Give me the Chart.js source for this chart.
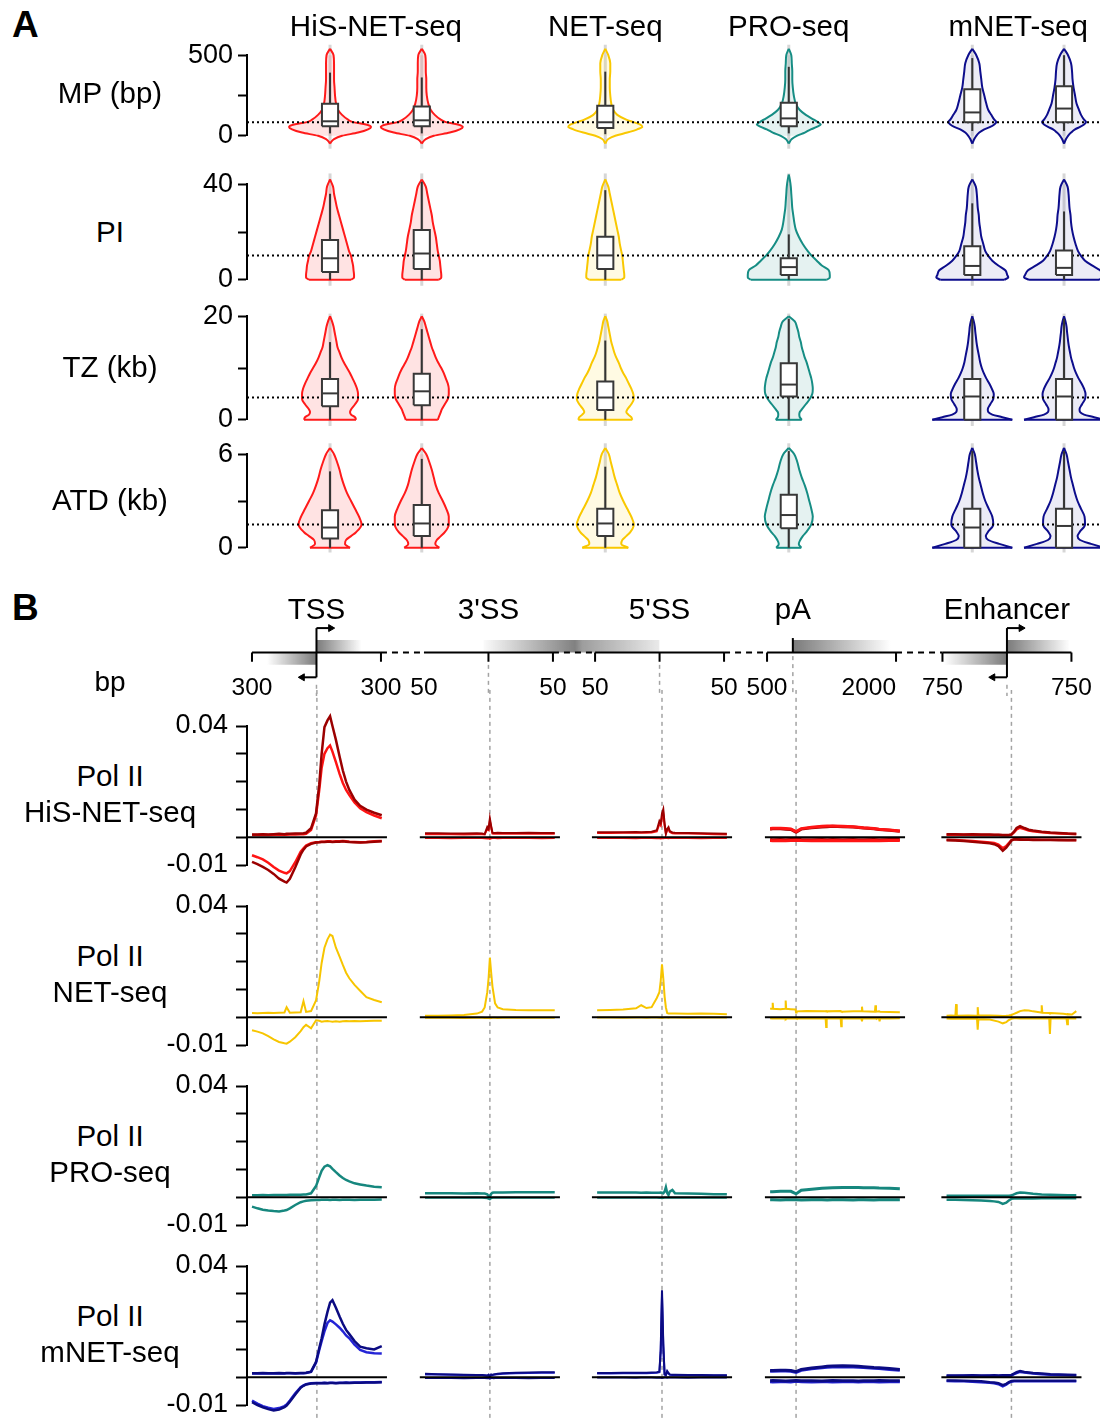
<!DOCTYPE html>
<html>
<head>
<meta charset="utf-8">
<script src="https://cdn.jsdelivr.net/npm/chart.js@4.4.0/dist/chart.umd.min.js"></script>
<style>
body { margin: 0; background: #fff; }
#page { position: relative; width: 1102px; height: 1420px; overflow: hidden; font-family: "Liberation Sans", Arial, sans-serif; }
#page canvas { position: absolute; }
.lbl { position: absolute; white-space: nowrap; color: #000; line-height: 1; }
</style>
</head>
<body>
<div id="page"></div>
<script>
// ---------- panel A : violins ----------
const assays = ['HiS-NET-seq', 'NET-seq', 'PRO-seq', 'mNET-seq'];
const assayCenter = [0.5, 3, 5, 7.5];
const colX = [0, 1, 3, 5, 7, 8];
const metricNames = ['MP (bp)', 'PI', 'TZ (kb)', 'ATD (kb)'];

// MP (bp)
const mpLevels = [-48, -20, 0, 20, 40, 55, 70, 85, 100, 130, 160, 200, 250, 300, 350, 400, 450, 500, 540];
const mpDensity = [
  [0, 4, 12, 28, 38, 41, 36, 23, 18, 12, 8, 6, 5, 4.5, 4, 4, 4, 3.5, 0],
  [0, 4, 12, 28, 38, 41, 36, 24, 19, 13, 9, 6.5, 5, 4.5, 4.5, 4, 4, 3.5, 0],
  [0, 3, 10, 22, 32, 37, 35, 28, 21, 12, 8, 6, 5, 4.5, 4.5, 5, 5, 3, 0],
  [0, 3, 8, 16, 22, 28, 32, 29, 25, 17, 11, 7, 5, 4, 3.5, 3.5, 3, 2.5, 0],
  [0, 2, 4, 7, 12, 18, 22, 24, 22, 19, 16, 14, 12, 10, 9, 8, 7, 4, 0],
  [0, 2, 4, 7, 11, 16, 20, 22, 20, 17, 15, 12.5, 11, 9.5, 8.5, 8, 7, 4, 0]
];
// [whisker low, q1, median, q3, whisker high]
const mpBoxes = [[15, 60, 90, 199, 392], [15, 60, 96, 181, 362], [10, 48, 84, 187, 398],
                 [15, 60, 108, 205, 428], [30, 84, 145, 289, 482], [30, 84, 169, 307, 500]];
const mpRef = 84;
const mpTicks = [0, 250, 500];
const mpTickText = ['0', '', '500'];
const mpGray = [-80, 565];

// PI
const piLevels = [0, 1, 2, 4, 6, 8, 10, 12, 15, 18, 21, 24, 27, 30, 33, 36, 39, 42, 44];
const piDensity = [
  [21, 24, 24, 23.5, 23, 22, 21, 19, 17, 15, 13, 11, 9, 7, 5.5, 4, 3, 0, 0],
  [17, 19.5, 19.5, 19, 18.5, 18, 17, 16, 15, 14, 12.5, 11, 10, 8.5, 7, 5.5, 4, 0, 0],
  [16, 19, 19, 18.5, 18, 17.5, 17, 16, 14.5, 13.5, 12, 10.5, 9, 7.5, 6, 4.5, 3, 0, 0],
  [38, 41, 41, 40, 33, 28, 23, 19, 14, 10, 7, 5.5, 4.5, 3.5, 3, 2.5, 2, 1, 0],
  [32, 36, 35, 33, 26, 20, 16, 13, 11, 9, 8, 7, 6.5, 5.5, 5, 4.5, 3.5, 0, 0],
  [35, 40, 39, 36, 28, 21, 17, 14, 11.5, 9.5, 8, 7, 6.5, 5.5, 5, 4.5, 3.5, 0, 0]
];
const piBoxes = [[0, 3.3, 9, 16.7, 36], [0, 4.5, 11, 20.8, 41], [0, 4.5, 10.2, 18, 37.5],
                 [0, 2, 5.3, 9, 19], [0, 2, 5.8, 14, 32], [0, 2, 5, 12.3, 28.6]];
const piRef = 10.2;
const piTicks = [0, 20, 40];
const piTickText = ['0', '', '40'];
const piGray = [-2.5, 44.5];

// TZ (kb)
const tzLevels = [0, 0.5, 1, 1.5, 2, 3, 4, 5, 6, 7, 8, 9, 10, 11, 12, 13, 14, 15, 16, 17, 18, 19, 20];
const tzDensity = [
  [26, 25, 21, 20, 21, 25, 28, 28, 27, 25, 22.5, 20, 17, 14, 11.5, 9.5, 7.5, 6.5, 5.5, 4.5, 3.5, 2, 0],
  [16, 17, 18, 19, 20, 23, 26, 27, 27, 26, 24, 22, 19.5, 16.5, 14, 12, 10, 8.5, 7, 5.5, 4, 2.5, 0],
  [27, 26, 23, 21, 22, 26, 28.5, 28, 26, 23.5, 21, 18, 15.5, 13.5, 11, 9, 7.5, 6, 5, 4, 3, 2, 0],
  [13, 11, 10.5, 11, 13, 17, 21, 23.5, 24, 23.5, 22.5, 21, 19.5, 18, 16, 14.5, 13, 12, 10.5, 9.5, 8, 6, 0],
  [40, 30, 20, 16, 15.5, 18, 21, 21.5, 19.5, 17, 14, 11.5, 9.5, 8, 7, 6, 5, 4.2, 3.6, 3, 2.5, 1.5, 0],
  [40, 30, 20, 16, 15.5, 18, 21, 21.5, 20, 17.5, 14.5, 12, 10, 8.5, 7, 6, 5, 4.2, 3.6, 3, 2.5, 1.5, 0]
];
const tzBoxes = [[0, 2.6, 5.1, 7.9, 15], [0, 2.8, 5.5, 8.9, 17.5], [0, 1.9, 4.3, 7.4, 15.3],
                 [0, 4.5, 6.8, 10.9, 19.5], [0, 0, 4.5, 7.9, 19.5], [0, 0, 4.5, 7.9, 19.5]];
const tzRef = 4.3;
const tzTicks = [0, 10, 20];
const tzTickText = ['0', '', '20'];
const tzGray = [-1.2, 20.5];

// ATD (kb)
const atdLevels = [0, 0.25, 0.5, 0.75, 1, 1.5, 2, 2.5, 3, 3.5, 4, 4.5, 5, 5.5, 6, 6.4];
const atdDensity = [
  [20, 15, 16, 21, 26, 31.5, 29, 25, 21, 17, 14, 11.5, 9.5, 7, 4, 0],
  [17.5, 13.5, 15, 19, 23, 27, 27, 24.5, 21, 17, 14, 12, 10, 7.5, 4.5, 0],
  [23, 16, 17, 21, 25, 28.5, 26, 22, 18, 14.5, 12, 9.5, 7.5, 5.5, 3.5, 0],
  [12.5, 10, 11.5, 14, 17.5, 22.5, 24, 22.5, 20.5, 18.5, 16, 13, 10.5, 8.5, 5.5, 0],
  [40, 27, 16, 13.5, 15.5, 21, 20, 16.5, 13, 10.5, 8.5, 6.5, 5, 3.8, 2.5, 0],
  [40, 27, 16, 13.5, 15.5, 21, 20.5, 17, 13.5, 11, 9, 7, 5.5, 4, 2.5, 0]
];
const atdBoxes = [[0, 0.6, 1.3, 2.4, 4.9], [0, 0.75, 1.56, 2.75, 5.7], [0, 0.75, 1.56, 2.5, 5.2],
                  [0, 1.25, 2.1, 3.4, 6.2], [0, 0, 1.3, 2.5, 6.2], [0, 0, 1.4, 2.5, 6.2]];
const atdRef = 1.5;
const atdTicks = [0, 3, 6];
const atdTickText = ['0', '', '6'];
const atdGray = [-0.3, 6.7];

// ---------- panel B : metagene profiles ----------
const siteNames = ['TSS', "3'SS", "5'SS", 'pA', 'Enhancer'];
const segRange = [[-300, 300], [-50, 50], [-50, 50], [-500, 2000], [-750, 750]];

const tssBp = [-300,-275,-250,-225,-200,-175,-150,-140,-125,-100,-75,-62,-50,-27,-4,11,22,35,49,61,72,88,105,120,135,150,174,200,229,265,300];
const ss3Bp = [-50,-40,-30,-20,-10,-6,-4,-2,-1,0,1,2,3,4,6,10,20,30,40,50];
const ss5Bp = [-50,-40,-30,-20,-16,-12,-8,-4,-2,-1,0,1,2,3,4,5,6,8,10,20,30,40,50];
const paBp = [-500,-450,-300,-200,-100,0,100,300,500,600,700,900,1100,1200,1300,1500,1600,1800,2000];
const enhBp = [-750,-650,-550,-450,-350,-250,-200,-150,-100,-60,-30,0,30,60,100,150,200,250,350,450,550,650,750];
// finer positions for the spiky NET-seq tracks
const netPaBp = [-500,-460,-450,-440,-300,-210,-200,-190,-100,-10,0,10,200,570,580,590,860,870,880,1100,1260,1270,1280,1520,1530,1540,1600,1610,1620,1800,2000];
const netEnhBp = [-750,-700,-648,-640,-632,-500,-398,-390,-382,-250,-150,-100,-60,-30,0,30,60,100,150,200,250,342,350,358,437,445,453,600,637,645,653,700,750];

// HiS-NET-seq (A = dark replicate, B = bright replicate)
const hisTssPosA = [.0010,.0010,.0011,.0010,.0011,.0012,.0011,.0012,.0012,.0013,.0013,.0014,.0016,.0032,.0086,.0190,.0300,.0396,.0420,.0435,.0400,.0350,.0290,.0240,.0200,.0170,.0135,.0113,.0099,.0088,.0079];
const hisTssPosB = [.0008,.0008,.0009,.0008,.0009,.0009,.0010,.0009,.0010,.0010,.0011,.0011,.0012,.0026,.0078,.0170,.0250,.0300,.0320,.0330,.0308,.0270,.0228,.0195,.0170,.0152,.0125,.0104,.0090,.0078,.0068];
const hisTssNegA = [-.0089,-.0097,-.0107,-.0118,-.0132,-.0149,-.0160,-.0163,-.0150,-.0108,-.0062,-.0045,-.0033,-.0024,-.0019,-.0018,-.0017,-.0017,-.0016,-.0016,-.0017,-.0016,-.0016,-.0015,-.0016,-.0017,-.0018,-.0019,-.0018,-.0016,-.0015];
const hisTssNegB = [-.0065,-.0072,-.0080,-.0092,-.0107,-.0120,-.0128,-.0130,-.0122,-.0090,-.0052,-.0040,-.0030,-.0022,-.0018,-.0017,-.0016,-.0016,-.0015,-.0015,-.0016,-.0015,-.0015,-.0014,-.0015,-.0016,-.0017,-.0018,-.0017,-.0015,-.0014];
const hisSs3PosA = [.0014,.0014,.0013,.0013,.0014,.0013,.0011,.0037,.0030,.0067,.0040,.0016,.0015,.0015,.0016,.0015,.0015,.0016,.0015,.0015];
const hisSs3PosB = [.0011,.0011,.0011,.0010,.0011,.0011,.0010,.0030,.0026,.0058,.0035,.0013,.0012,.0012,.0013,.0012,.0012,.0013,.0012,.0012];
const hisSs3Neg = [-.0003,-.0003,-.0004,-.0003,-.0003,-.0003,-.0004,-.0005,-.0004,-.0006,-.0004,-.0003,-.0003,-.0003,-.0004,-.0003,-.0003,-.0003,-.0004,-.0003];
const hisSs5PosA = [.0018,.0018,.0018,.0019,.0018,.0019,.0020,.0025,.0058,.0050,.0085,.0100,.0050,.0014,.0030,.0036,.0022,.0017,.0016,.0015,.0014,.0013,.0012];
const hisSs5PosB = [.0015,.0015,.0016,.0016,.0016,.0016,.0017,.0021,.0048,.0042,.0070,.0085,.0042,.0012,.0025,.0030,.0019,.0014,.0013,.0013,.0012,.0011,.0010];
const hisSs5Neg = [-.0003,-.0003,-.0003,-.0004,-.0003,-.0003,-.0003,-.0004,-.0004,-.0005,-.0004,-.0004,-.0003,-.0003,-.0003,-.0004,-.0003,-.0003,-.0003,-.0003,-.0004,-.0003,-.0003];
const hisPaPosA = [.0029,.0030,.0030,.0029,.0028,.0018,.0029,.0034,.0037,.0038,.0039,.0038,.0037,.0035,.0033,.0030,.0028,.0025,.0021];
const hisPaPosB = [.0031,.0032,.0032,.0031,.0030,.0020,.0031,.0036,.0039,.0040,.0040,.0039,.0038,.0036,.0034,.0031,.0029,.0026,.0022];
const hisPaNegA = [-.0008,-.0009,-.0008,-.0009,-.0008,-.0007,-.0008,-.0009,-.0008,-.0009,-.0008,-.0009,-.0008,-.0009,-.0009,-.0008,-.0009,-.0008,-.0008];
const hisPaNegB = [-.0012,-.0013,-.0012,-.0013,-.0012,-.0011,-.0012,-.0013,-.0012,-.0013,-.0012,-.0013,-.0012,-.0013,-.0013,-.0012,-.0013,-.0012,-.0012];
const hisEnhPosA = [.0011,.0011,.0010,.0011,.0010,.0010,.0009,.0009,.0008,.0008,.0008,.0010,.0020,.0033,.0040,.0033,.0027,.0024,.0020,.0017,.0015,.0013,.0012];
const hisEnhPosB = [.0009,.0009,.0009,.0009,.0008,.0008,.0008,.0008,.0007,.0007,.0007,.0009,.0017,.0028,.0034,.0029,.0024,.0021,.0018,.0015,.0013,.0012,.0011];
const hisEnhNegA = [-.0011,-.0012,-.0014,-.0016,-.0019,-.0022,-.0025,-.0032,-.0049,-.0038,-.0025,-.0012,-.0008,-.0008,-.0009,-.0009,-.0009,-.0010,-.0010,-.0010,-.0011,-.0011,-.0011];
const hisEnhNegB = [-.0009,-.0010,-.0012,-.0014,-.0016,-.0019,-.0021,-.0027,-.0040,-.0032,-.0021,-.0010,-.0007,-.0007,-.0007,-.0008,-.0008,-.0008,-.0009,-.0009,-.0009,-.0010,-.0010];

// NET-seq
const netTssPos = [.0015,.0014,.0015,.0016,.0015,.0016,.0017,.0036,.0016,.0017,.0018,.0058,.0019,.0022,.0060,.0130,.0195,.0250,.0280,.0297,.0292,.0250,.0218,.0188,.0160,.0140,.0116,.0095,.0072,.0062,.0054];
const netTssNeg = [-.0047,-.0052,-.0058,-.0068,-.0080,-.0089,-.0094,-.0095,-.0088,-.0072,-.0050,-.0036,-.0027,-.0040,-.0011,-.0013,-.0016,-.0015,-.0014,-.0015,-.0016,-.0015,-.0016,-.0015,-.0014,-.0015,-.0014,-.0015,-.0014,-.0013,-.0013];
const netSs3Pos = [.0005,.0005,.0006,.0008,.0013,.0020,.0035,.0090,.0140,.0214,.0160,.0110,.0080,.0050,.0035,.0029,.0026,.0025,.0025,.0025];
const netSs3Neg = [-.0002,-.0002,-.0002,-.0003,-.0002,-.0002,-.0003,-.0003,-.0002,-.0004,-.0003,-.0002,-.0002,-.0002,-.0003,-.0002,-.0002,-.0002,-.0002,-.0002];
const netSs5Pos = [.0025,.0026,.0028,.0032,.0043,.0033,.0036,.0069,.0090,.0130,.0190,.0140,.0075,.0035,.0015,.0013,.0013,.0013,.0013,.0012,.0013,.0012,.0011];
const netSs5Neg = [-.0001,-.0001,-.0002,-.0001,-.0001,-.0002,-.0001,-.0001,-.0002,-.0002,-.0003,-.0002,-.0001,-.0001,-.0001,-.0002,-.0001,-.0001,-.0001,-.0002,-.0001,-.0001,-.0001];
const netPaPos = [.0030,.0031,.0052,.0030,.0029,.0030,.0060,.0030,.0029,.0028,.0017,.0021,.0022,.0021,.0022,.0021,.0022,.0021,.0020,.0021,.0021,.0038,.0021,.0020,.0043,.0020,.0021,.0021,.0020,.0019,.0018];
const netPaNeg = [-.0004,-.0005,-.0004,-.0005,-.0004,-.0005,-.0006,-.0004,-.0005,-.0004,-.0004,-.0005,-.0004,-.0005,-.0035,-.0005,-.0004,-.0033,-.0005,-.0004,-.0005,-.0015,-.0004,-.0005,-.0004,-.0005,-.0005,-.0015,-.0004,-.0005,-.0004];
const netEnhPos = [.0005,.0006,.0005,.0047,.0005,.0006,.0005,.0036,.0006,.0006,.0005,.0004,.0005,.0006,.0008,.0012,.0016,.0022,.0025,.0024,.0021,.0017,.0043,.0016,.0015,.0014,.0015,.0012,.0011,.0010,.0011,.0010,.0022];
const netEnhNeg = [-.0005,-.0006,-.0005,-.0006,-.0005,-.0006,-.0006,-.0045,-.0007,-.0008,-.0016,-.0022,-.0018,-.0010,-.0006,-.0004,-.0004,-.0005,-.0004,-.0005,-.0004,-.0005,-.0004,-.0005,-.0005,-.0060,-.0005,-.0005,-.0005,-.0025,-.0005,-.0005,-.0005];

// PRO-seq
const proTssPos = [.0007,.0007,.0008,.0007,.0008,.0008,.0008,.0008,.0009,.0009,.0009,.0010,.0010,.0014,.0040,.0072,.0095,.0110,.0115,.0111,.0102,.0090,.0078,.0069,.0062,.0057,.0050,.0046,.0042,.0038,.0036];
const proTssNeg = [-.0034,-.0040,-.0045,-.0048,-.0050,-.0051,-.0048,-.0046,-.0040,-.0028,-.0018,-.0015,-.0013,-.0011,-.0010,-.0010,-.0009,-.0009,-.0009,-.0010,-.0009,-.0009,-.0010,-.0009,-.0009,-.0009,-.0010,-.0009,-.0009,-.0009,-.0008];
const proSs3Pos = [.0014,.0014,.0014,.0013,.0014,.0013,.0013,.0010,.0004,.0002,.0012,.0016,.0017,.0017,.0017,.0017,.0018,.0018,.0018,.0018];
const proSs3Neg = [-.0002,-.0002,-.0002,-.0002,-.0002,-.0002,-.0003,-.0004,-.0006,-.0008,-.0004,-.0002,-.0002,-.0002,-.0002,-.0002,-.0002,-.0002,-.0002,-.0002];
const proSs5Pos = [.0017,.0017,.0017,.0017,.0016,.0017,.0016,.0016,.0016,.0017,.0016,.0014,.0020,.0036,.0015,.0008,.0020,.0026,.0014,.0013,.0012,.0011,.0011];
const proSs5Neg = [-.0002,-.0002,-.0002,-.0002,-.0002,-.0002,-.0002,-.0002,-.0003,-.0003,-.0004,-.0003,-.0002,-.0002,-.0002,-.0002,-.0002,-.0002,-.0002,-.0002,-.0002,-.0002,-.0002];
const proPaPos = [.0020,.0020,.0021,.0021,.0021,.0012,.0025,.0029,.0032,.0033,.0034,.0035,.0035,.0035,.0034,.0034,.0033,.0032,.0030];
const proPaNeg = [-.0009,-.0009,-.0010,-.0009,-.0009,-.0009,-.0010,-.0009,-.0009,-.0010,-.0009,-.0009,-.0010,-.0009,-.0009,-.0010,-.0009,-.0009,-.0009];
const proEnhPos = [.0005,.0005,.0005,.0005,.0005,.0005,.0005,.0005,.0005,.0005,.0005,.0006,.0010,.0014,.0017,.0016,.0014,.0012,.0010,.0009,.0008,.0007,.0007];
const proEnhNeg = [-.0009,-.0009,-.0010,-.0011,-.0012,-.0014,-.0015,-.0017,-.0024,-.0020,-.0012,-.0006,-.0005,-.0005,-.0005,-.0005,-.0005,-.0005,-.0004,-.0004,-.0004,-.0004,-.0004];

// mNET-seq (A = dark replicate, B = bright replicate)
const mnTssPosA = [.0014,.0014,.0015,.0014,.0014,.0015,.0014,.0015,.0015,.0014,.0015,.0015,.0016,.0020,.0055,.0105,.0140,.0190,.0235,.0268,.0277,.0250,.0218,.0192,.0170,.0155,.0130,.0110,.0104,.0100,.0112];
const mnTssPosB = [.0013,.0013,.0014,.0013,.0013,.0014,.0013,.0014,.0014,.0013,.0014,.0014,.0015,.0019,.0052,.0098,.0130,.0165,.0195,.0205,.0200,.0190,.0178,.0165,.0150,.0140,.0117,.0098,.0090,.0086,.0085];
const mnTssNegA = [-.0090,-.0100,-.0108,-.0115,-.0120,-.0116,-.0108,-.0102,-.0088,-.0062,-.0038,-.0031,-.0026,-.0023,-.0022,-.0022,-.0022,-.0021,-.0022,-.0021,-.0021,-.0022,-.0021,-.0021,-.0020,-.0021,-.0020,-.0020,-.0019,-.0019,-.0018];
const mnTssNegB = [-.0084,-.0095,-.0104,-.0110,-.0114,-.0111,-.0104,-.0098,-.0084,-.0058,-.0036,-.0029,-.0025,-.0022,-.0021,-.0021,-.0021,-.0020,-.0021,-.0020,-.0020,-.0021,-.0020,-.0020,-.0019,-.0020,-.0019,-.0019,-.0018,-.0018,-.0017];
const mnSs3PosA = [.0012,.0011,.0010,.0009,.0008,.0008,.0007,.0006,.0009,.0002,.0010,.0008,.0010,.0011,.0012,.0014,.0016,.0017,.0018,.0018];
const mnSs3PosB = [.0010,.0010,.0009,.0008,.0007,.0007,.0006,.0005,.0007,.0001,.0008,.0007,.0009,.0010,.0011,.0012,.0014,.0015,.0016,.0016];
const mnSs3Neg = [-.0003,-.0003,-.0003,-.0004,-.0003,-.0003,-.0003,-.0004,-.0003,-.0005,-.0003,-.0003,-.0004,-.0003,-.0003,-.0003,-.0003,-.0004,-.0003,-.0003];
const mnSs5PosA = [.0015,.0015,.0016,.0016,.0016,.0016,.0017,.0018,.0020,.0100,.0313,.0120,.0010,.0008,.0022,.0015,.0010,.0009,.0009,.0008,.0008,.0007,.0007];
const mnSs5PosB = [.0013,.0013,.0014,.0014,.0014,.0014,.0015,.0016,.0018,.0090,.0290,.0110,.0009,.0007,.0020,.0013,.0009,.0008,.0008,.0007,.0007,.0006,.0006];
const mnSs5Neg = [-.0001,-.0001,-.0001,-.0002,-.0001,-.0001,-.0001,-.0002,-.0001,-.0002,-.0003,-.0002,-.0001,-.0001,-.0002,-.0001,-.0001,-.0001,-.0001,-.0002,-.0001,-.0001,-.0001];
const mnPaPosA = [.0024,.0024,.0025,.0025,.0024,.0020,.0028,.0033,.0037,.0039,.0040,.0041,.0040,.0039,.0038,.0035,.0034,.0031,.0028];
const mnPaPosB = [.0021,.0021,.0022,.0022,.0021,.0017,.0025,.0030,.0034,.0036,.0037,.0038,.0037,.0036,.0035,.0032,.0031,.0028,.0025];
const mnPaNegA = [-.0013,-.0012,-.0013,-.0014,-.0013,-.0012,-.0013,-.0013,-.0014,-.0013,-.0012,-.0013,-.0013,-.0014,-.0013,-.0013,-.0012,-.0013,-.0013];
const mnPaNegB = [-.0016,-.0017,-.0016,-.0016,-.0017,-.0015,-.0016,-.0017,-.0016,-.0016,-.0017,-.0016,-.0016,-.0017,-.0016,-.0016,-.0017,-.0016,-.0016];
const mnEnhPosA = [.0006,.0006,.0006,.0007,.0006,.0006,.0007,.0006,.0007,.0007,.0007,.0008,.0013,.0018,.0022,.0019,.0017,.0015,.0013,.0011,.0010,.0009,.0008];
const mnEnhPosB = [.0004,.0004,.0005,.0005,.0004,.0005,.0005,.0004,.0005,.0005,.0005,.0006,.0011,.0015,.0019,.0017,.0015,.0013,.0011,.0009,.0008,.0007,.0006];
const mnEnhNegA = [-.0012,-.0012,-.0013,-.0014,-.0015,-.0018,-.0019,-.0022,-.0029,-.0024,-.0018,-.0014,-.0013,-.0013,-.0013,-.0013,-.0013,-.0013,-.0013,-.0013,-.0013,-.0013,-.0013];
const mnEnhNegB = [-.0014,-.0015,-.0015,-.0016,-.0018,-.0020,-.0022,-.0025,-.0033,-.0027,-.0020,-.0016,-.0015,-.0015,-.0015,-.0015,-.0015,-.0015,-.0015,-.0015,-.0015,-.0015,-.0015];

const bTicks = [-0.01, 0, 0.01, 0.02, 0.03, 0.04];
const bTickText = ['-0.01', '', '', '', '', '0.04'];

// ---------- styling ----------
const violinLine = ['#ff1a1a', '#ff1a1a', '#f9c800', '#168d84', '#0d0d8c', '#0d0d8c'];
const violinFill = ['rgba(255,40,40,0.13)', 'rgba(255,40,40,0.13)', 'rgba(255,210,0,0.11)',
                    'rgba(22,141,132,0.11)', 'rgba(13,13,140,0.08)', 'rgba(13,13,140,0.08)'];
const violinScale = 0.0109;   // x units per density unit
const boxHalf = 0.088;
const hisDark = '#9b0000', hisRed = '#ff1414', netGold = '#f7c500', proTeal = '#16877e',
      mnDark = '#0b0b82', mnBlue = '#2424d6';

Chart.defaults.font.family = '"Liberation Sans", Arial, sans-serif';
Chart.defaults.color = '#000';
Chart.defaults.animation = false;
Chart.defaults.events = [];
Chart.defaults.plugins.legend.display = false;
Chart.defaults.plugins.tooltip.enabled = false;
Chart.defaults.elements.point.radius = 0;
Chart.defaults.elements.point.hoverRadius = 0;

const page = document.getElementById('page');

function addCanvas(left, top, w, h) {
  const c = document.createElement('canvas');
  c.width = w; c.height = h;
  c.style.left = left + 'px'; c.style.top = top + 'px';
  c.style.width = w + 'px'; c.style.height = h + 'px';
  page.appendChild(c);
  return c;
}

function addText(str, x, yc, size, align, bold) {
  const d = document.createElement('div');
  d.className = 'lbl';
  d.textContent = str;
  d.style.fontSize = size + 'px';
  d.style.top = (yc - 0.49 * size) + 'px';
  d.style.left = x + 'px';
  if (align === 'center') d.style.transform = 'translateX(-50%)';
  if (align === 'right') d.style.transform = 'translateX(-100%)';
  if (bold) d.style.fontWeight = 'bold';
  page.appendChild(d);
}

function line(pts, color, width, order, dash) {
  return { data: pts, borderColor: color, borderWidth: width, order: order,
           borderDash: dash || [], fill: false, clip: false, pointRadius: 0, tension: 0 };
}

function yAxis(ticks, tickText, size, tickLen, pad) {
  return {
    type: 'linear', min: ticks[0], max: ticks[ticks.length - 1],
    afterBuildTicks: ax => { ax.ticks = ticks.map(v => ({ value: v })); },
    afterFit: ax => { ax.width = 90; },
    ticks: { callback: (v, i) => tickText[i], font: { size: size }, color: '#000', padding: pad, autoSkip: false },
    grid: { drawOnChartArea: false, tickLength: tickLen, tickWidth: 2, tickColor: '#000' },
    border: { display: true, color: '#000', width: 2 }
  };
}

const aMin = -0.905, aMax = 8.392;

function violinRow(levels, density, boxes, ref, ticks, tickText, gray, topPx, bottomPx) {
  const cv = addCanvas(157, topPx - 20, 943, bottomPx - topPx + 40);
  const ds = [];
  colX.forEach((cx, c) => {
    ds.push(line([{ x: cx, y: gray[0] }, { x: cx, y: gray[1] }], 'rgba(180,180,180,0.55)', 3, 7));
    const d = density[c];
    let lo = 0, hi = d.length - 1;
    while (lo < hi - 1 && d[lo] === 0 && d[lo + 1] === 0) lo++;
    while (hi > lo + 1 && d[hi] === 0 && d[hi - 1] === 0) hi--;
    [-1, 1].forEach(side => {
      const pts = [];
      for (let i = hi; i >= lo; i--) pts.push({ x: cx + side * d[i] * violinScale, y: levels[i] });
      const s = line(pts, violinLine[c], 2, 5);
      s.fill = { value: cx };
      s.backgroundColor = violinFill[c];
      s.cubicInterpolationMode = 'monotone';
      s.capBezierPoints = false;
      ds.push(s);
    });
    if (d[lo] > 0) {
      ds.push(line([{ x: cx - d[lo] * violinScale, y: levels[lo] }, { x: cx + d[lo] * violinScale, y: levels[lo] }], violinLine[c], 2, 5));
    }
    const b = boxes[c];
    ds.push(line([{ x: cx, y: b[0] }, { x: cx, y: b[1] }], '#333', 2, 3));
    ds.push(line([{ x: cx, y: b[3] }, { x: cx, y: b[4] }], '#333', 2, 3));
    const bf = line([{ x: cx - boxHalf, y: b[3] }, { x: cx - boxHalf, y: b[1] }], 'rgba(0,0,0,0)', 1, 2);
    bf.fill = { value: cx + boxHalf };
    bf.backgroundColor = '#ffffff';
    ds.push(bf);
    ds.push(line([{ x: cx - boxHalf, y: b[1] }, { x: cx + boxHalf, y: b[1] }, { x: cx + boxHalf, y: b[3] },
                  { x: cx - boxHalf, y: b[3] }, { x: cx - boxHalf, y: b[1] }], '#383838', 2, 1));
    ds.push(line([{ x: cx - boxHalf, y: b[2] }, { x: cx + boxHalf, y: b[2] }], '#383838', 2, 0));
  });
  ds.push(line([{ x: aMin, y: ref }, { x: aMax, y: ref }], '#000', 2, 4, [2, 3]));
  return new Chart(cv, {
    type: 'line',
    data: { datasets: ds },
    options: {
      responsive: false,
      indexAxis: 'y',
      layout: { padding: { top: 20, bottom: 20, left: 0, right: 0 } },
      scales: {
        x: { type: 'linear', display: false, min: aMin, max: aMax },
        y: yAxis(ticks, tickText, 27, 9, 5)
      }
    }
  });
}

const rowMP = violinRow(mpLevels, mpDensity, mpBoxes, mpRef, mpTicks, mpTickText, mpGray, 54, 137);
violinRow(piLevels, piDensity, piBoxes, piRef, piTicks, piTickText, piGray, 183, 281);
violinRow(tzLevels, tzDensity, tzBoxes, tzRef, tzTicks, tzTickText, tzGray, 315, 421);
violinRow(atdLevels, atdDensity, atdBoxes, atdRef, atdTicks, atdTickText, atdGray, 453, 549);

addText('A', 12, 24, 37, 'left', true);
assays.forEach((n, i) => addText(n, 157 + rowMP.scales.x.getPixelForValue(assayCenter[i]), 25, 29.5, 'center'));
[92, 231, 366, 499].forEach((y, i) => addText(metricNames[i], 110, y, 29.5, 'center'));

// ---------- panel B ----------
const segStart = [0, 1, 1.995, 2.995, 4.015];
const segSlot = 0.75;
function segX(k, bp) { return segStart[k] + segSlot * (bp - segRange[k][0]) / (segRange[k][1] - segRange[k][0]); }
const bMin = -0.029, bMax = 4.902;

function tr(seg, vals, color, w, bps) { return { seg, vals, color, w, bps }; }
const segBp = [tssBp, ss3Bp, ss5Bp, paBp, enhBp];
const rowTraces = [
  [tr(0, hisTssPosB, hisRed, 2.5), tr(0, hisTssNegB, hisRed, 2.5), tr(0, hisTssPosA, hisDark, 2.5), tr(0, hisTssNegA, hisDark, 2.5),
   tr(1, hisSs3Neg, hisRed, 2), tr(1, hisSs3PosB, hisRed, 2), tr(1, hisSs3PosA, hisDark, 2),
   tr(2, hisSs5Neg, hisRed, 2), tr(2, hisSs5PosB, hisRed, 2), tr(2, hisSs5PosA, hisDark, 2),
   tr(3, hisPaNegA, hisDark, 3), tr(3, hisPaNegB, hisRed, 3), tr(3, hisPaPosA, hisDark, 3), tr(3, hisPaPosB, hisRed, 3),
   tr(4, hisEnhNegB, hisRed, 2.5), tr(4, hisEnhPosB, hisRed, 2.5), tr(4, hisEnhNegA, hisDark, 2.5), tr(4, hisEnhPosA, hisDark, 2.5)],
  [tr(0, netTssPos, netGold, 2), tr(0, netTssNeg, netGold, 2), tr(1, netSs3Pos, netGold, 2), tr(1, netSs3Neg, netGold, 2),
   tr(2, netSs5Pos, netGold, 2), tr(2, netSs5Neg, netGold, 2), tr(3, netPaPos, netGold, 2, netPaBp), tr(3, netPaNeg, netGold, 2, netPaBp),
   tr(4, netEnhPos, netGold, 2, netEnhBp), tr(4, netEnhNeg, netGold, 2, netEnhBp)],
  [tr(0, proTssPos, proTeal, 2.5), tr(0, proTssNeg, proTeal, 2.5), tr(1, proSs3Pos, proTeal, 2.5), tr(1, proSs3Neg, proTeal, 2),
   tr(2, proSs5Pos, proTeal, 2.5), tr(2, proSs5Neg, proTeal, 2), tr(3, proPaPos, proTeal, 3), tr(3, proPaNeg, proTeal, 3),
   tr(4, proEnhPos, proTeal, 2.5), tr(4, proEnhNeg, proTeal, 2.5)],
  [tr(0, mnTssPosB, mnBlue, 2.5), tr(0, mnTssNegB, mnBlue, 2.5), tr(0, mnTssPosA, mnDark, 2.5), tr(0, mnTssNegA, mnDark, 2.5),
   tr(1, mnSs3Neg, mnDark, 2), tr(1, mnSs3PosB, mnBlue, 2), tr(1, mnSs3PosA, mnDark, 2),
   tr(2, mnSs5Neg, mnDark, 2), tr(2, mnSs5PosB, mnBlue, 2), tr(2, mnSs5PosA, mnDark, 2),
   tr(3, mnPaNegB, mnBlue, 3), tr(3, mnPaNegA, mnDark, 3), tr(3, mnPaPosB, mnBlue, 3), tr(3, mnPaPosA, mnDark, 3),
   tr(4, mnEnhNegB, mnBlue, 2.5), tr(4, mnEnhPosB, mnBlue, 2.5), tr(4, mnEnhNegA, mnDark, 2.5), tr(4, mnEnhPosA, mnDark, 2.5)]
];
const dashBottom = [-0.0118, -0.0118, -0.0118, -0.0155];

function profileRow(r, topPx) {
  const cv = addCanvas(157, topPx - 36, 943, 200);
  const ds = [];
  for (let k = 0; k < 5; k++) {
    ds.push(line([{ x: segX(k, 0), y: 0.053 }, { x: segX(k, 0), y: dashBottom[r] }], '#a3a3a3', 1.5, 9, [4, 4]));
  }
  rowTraces[r].forEach((t, i) => {
    const bps = t.bps || segBp[t.seg];
    ds.push(line(bps.map((bp, j) => ({ x: segX(t.seg, bp), y: t.vals[j] })), t.color, t.w, 8 - i * 0.01));
  });
  for (let k = 0; k < 5; k++) {
    ds.push(line([{ x: segX(k, segRange[k][0]) - 0.03, y: 0 }, { x: segX(k, segRange[k][1]) + 0.03, y: 0 }], '#000', 2, 0));
  }
  return new Chart(cv, {
    type: 'line',
    data: { datasets: ds },
    options: {
      responsive: false,
      layout: { padding: { top: 36, bottom: 25, left: 0, right: 0 } },
      scales: {
        x: { type: 'linear', display: false, min: bMin, max: bMax },
        y: yAxis(bTicks, bTickText, 27, 11, 8)
      }
    }
  });
}

[726, 906, 1086, 1266].forEach((y, r) => {
  profileRow(r, y);
  addText('Pol II', 110, y + 49, 29.5, 'center');
  addText(assays[r], 110, y + 85, 29.5, 'center');
});

// ---------- panel B header schematic ----------
function hGradient(x0, x1, stops) {
  return ctx => {
    const ch = ctx.chart;
    if (!ch.chartArea) return 'rgba(0,0,0,0)';
    const sx = ch.scales.x;
    const g = ch.ctx.createLinearGradient(sx.getPixelForValue(x0), 0, sx.getPixelForValue(x1), 0);
    stops.forEach(s => g.addColorStop(s[0], s[1]));
    return g;
  };
}
const gDark = 'rgba(115,115,115,0.95)', gClear = 'rgba(115,115,115,0)';
function gradBox(x0, x1, y, stops) {
  const s = line([{ x: x0, y: y }, { x: x1, y: y }], 'rgba(0,0,0,0)', 1, 6);
  s.fill = { value: 0 };
  s.backgroundColor = hGradient(x0, x1, stops);
  return s;
}
function arrowHead(x, y, rot) {
  return { data: [{ x, y }], showLine: false, pointStyle: 'triangle', pointRadius: 4, pointRotation: rot,
           pointBackgroundColor: '#000', pointBorderColor: '#000', pointBorderWidth: 1, clip: false, order: 0 };
}

const hd = [];
const tss = segX(0, 0), enh = segX(4, 0), pa = segX(3, 0);
hd.push(gradBox(tss, segX(0, 210), 1, [[0, gDark], [1, gClear]]));
hd.push(gradBox(segX(0, -230), tss, -1, [[0, gClear], [1, gDark]]));
hd.push(gradBox(segX(1, -4), segX(2, 0), 1, [[0, 'rgba(115,115,115,0.03)'], [0.52, 'rgba(115,115,115,0.9)'], [0.56, 'rgba(115,115,115,0.7)'], [1, 'rgba(115,115,115,0.15)']]));
hd.push(gradBox(pa, segX(3, 1900), 1, [[0, gDark], [1, gClear]]));
hd.push(gradBox(enh, segX(4, 730), 1, [[0, gDark], [1, gClear]]));
hd.push(gradBox(segX(4, -730), enh, -1, [[0, gClear], [1, gDark]]));
for (let k = 0; k < 5; k++) {
  hd.push(line([{ x: segX(k, segRange[k][0]), y: 0 }, { x: segX(k, segRange[k][1]), y: 0 }], '#000', 2, 2));
  if (k < 4) hd.push(line([{ x: segX(k, segRange[k][1]), y: 0 }, { x: segX(k + 1, segRange[k + 1][0]), y: 0 }], '#000', 2, 2, [6, 5]));
}
const tickMarks = [[0, -300], [0, 300], [1, 0], [1, 50], [2, -50], [2, 0], [2, 50], [3, -500], [3, 2000], [4, -750], [4, 750]];
tickMarks.forEach(t => hd.push(line([{ x: segX(t[0], t[1]), y: 0 }, { x: segX(t[0], t[1]), y: -0.75 }], '#000', 2, 2)));
[[0, 60, 66], [4, 150, 165]].forEach(([k, off, head]) => {
  const x0 = segX(k, 0);
  hd.push(line([{ x: x0, y: -2 }, { x: x0, y: 1.95 }], '#000', 2, 1));
  hd.push(line([{ x: x0, y: 1.95 }, { x: segX(k, off), y: 1.95 }], '#000', 2, 1));
  hd.push(line([{ x: segX(k, -off), y: -2 }, { x: x0, y: -2 }], '#000', 2, 1));
  hd.push(arrowHead(segX(k, head), 1.95, 90));
  hd.push(arrowHead(segX(k, -head), -2, 270));
});
hd.push(line([{ x: pa, y: 0 }, { x: pa, y: 1.15 }], '#000', 2, 1));
[[tss, -2.6], [segX(1, 0), -1.0], [segX(2, 0), -1.0], [pa, -0.3], [enh, -2.6]].forEach(([x, y0]) => {
  hd.push(line([{ x, y: y0 }, { x, y: -3.5 }], '#a3a3a3', 1.5, 9, [4, 4]));
});

const headCv = addCanvas(157, 610, 943, 91);
const header = new Chart(headCv, {
  type: 'line',
  data: { datasets: hd },
  options: {
    responsive: false,
    layout: { padding: { left: 90, top: 0, right: 0, bottom: 0 } },
    scales: {
      x: { type: 'linear', display: false, min: bMin, max: bMax },
      y: { type: 'linear', display: false, min: -3.5, max: 3 }
    }
  }
});

const hx = v => 157 + header.scales.x.getPixelForValue(v);
siteNames.forEach((n, k) => addText(n, hx(segX(k, 0)), 608, 29.5, 'center'));
const bpLabels = [[0, -300, 'center'], [0, 300, 'center'], [1, -50, 'center'], [1, 50, 'center'], [2, -50, 'center'],
                  [2, 50, 'center'], [3, -500, 'center'], [3, 2000, 'right'], [4, -750, 'center'], [4, 750, 'center']];
bpLabels.forEach(([k, bp, al]) => addText(String(Math.abs(bp)), hx(segX(k, bp)), 687, 24.5, al));
addText('bp', 110, 682, 28, 'center');
addText('B', 12, 607, 37, 'left', true);
</script>
</body>
</html>
